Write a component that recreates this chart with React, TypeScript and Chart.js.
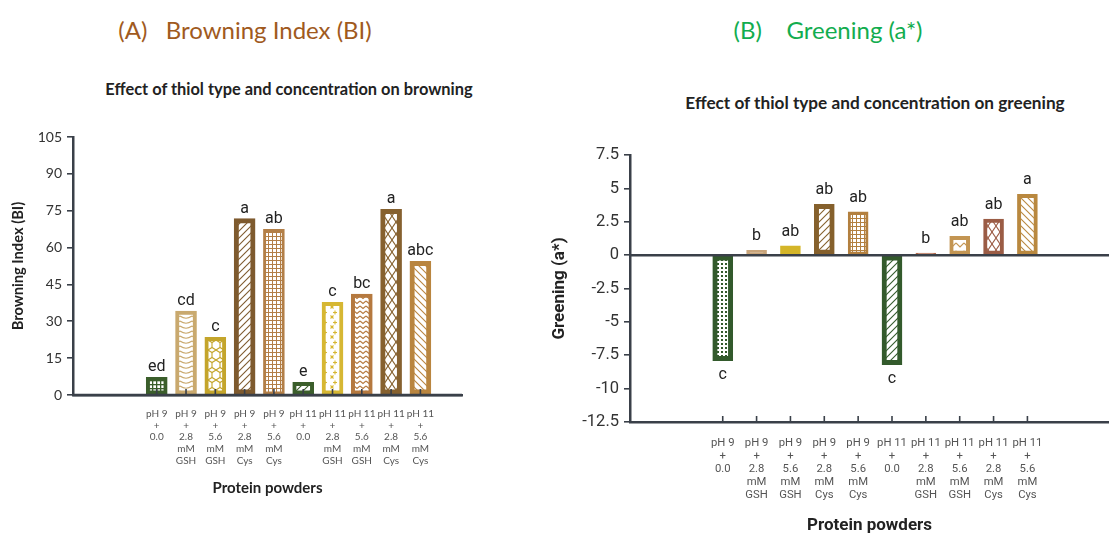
import { useEffect, useRef } from "react";
import { Chart, registerables } from "chart.js";
Chart.register(...registerables);

// ---------- data ----------
const categories = [
  "pH 9 + 0.0",
  "pH 9 + 2.8 mM GSH",
  "pH 9 + 5.6 mM GSH",
  "pH 9 + 2.8 mM Cys",
  "pH 9 + 5.6 mM Cys",
  "pH 11 + 0.0",
  "pH 11 + 2.8 mM GSH",
  "pH 11 + 5.6 mM GSH",
  "pH 11 + 2.8 mM Cys",
  "pH 11 + 5.6 mM Cys",
];
const tickLabels: string[][] = [
  ["pH 9", "+", "0.0"],
  ["pH 9", "+", "2.8", "mM", "GSH"],
  ["pH 9", "+", "5.6", "mM", "GSH"],
  ["pH 9", "+", "2.8", "mM", "Cys"],
  ["pH 9", "+", "5.6", "mM", "Cys"],
  ["pH 11", "+", "0.0"],
  ["pH 11", "+", "2.8", "mM", "GSH"],
  ["pH 11", "+", "5.6", "mM", "GSH"],
  ["pH 11", "+", "2.8", "mM", "Cys"],
  ["pH 11", "+", "5.6", "mM", "Cys"],
];
const browningValues = [7.2, 34.2, 23.5, 71.8, 67.4, 5.2, 37.7, 41.1, 75.6, 54.4];
const browningLetters = ["ed", "cd", "c", "a", "ab", "e", "c", "bc", "a", "abc"];
const browningYTicks = [0, 15, 30, 45, 60, 75, 90, 105];

const greeningValues = [-7.9, 0.35, 0.7, 3.8, 3.25, -8.2, 0.15, 1.4, 2.7, 4.55];
const greeningLetters = ["c", "b", "ab", "ab", "ab", "c", "b", "ab", "ab", "a"];
const greeningYTicks = [-12.5, -10, -7.5, -5, -2.5, 0, 2.5, 5, 7.5];

// ---------- styles ----------
const AXIS = "#3a4049";
const browningColors = ["#3b5e2b", "#c9a96e", "#c4a52b", "#7e5a2e", "#b37f47", "#3b5e2b", "#d6b733", "#b5793f", "#86612f", "#b9853f"];
const browningPatterns = ["grid", "arcs", "hex", "slash", "squares", "slash", "plus", "wave", "diamond", "backslash"];
const browningBorders = [4, 4, 4, 5, 3, 4, 4, 4, 5, 5];

const greeningColors = ["#335a2c", "#c8a47a", "#d4b528", "#85602c", "#b3803f", "#335a2c", "#b46a4c", "#c39552", "#9b5c45", "#b9883f"];
const greeningPatterns = ["dots", "solid", "solid", "slash", "squares", "slash", "solid", "chevron", "diamond", "backslash"];
const greeningBorders = [5, 3, 3, 5, 3, 5, 2, 4, 4, 4];

function makePattern(kind: string, color: string): CanvasPattern | string {
  if (kind === "solid") return color;
  const c = document.createElement("canvas");
  const g = c.getContext("2d")!;
  const set = (w: number, h: number) => {
    c.width = w;
    c.height = h;
    g.fillStyle = "#ffffff";
    g.fillRect(0, 0, w, h);
    g.strokeStyle = color;
    g.fillStyle = color;
    g.lineWidth = 1.1;
  };
  const line = (pts: number[][]) => {
    g.beginPath();
    g.moveTo(pts[0][0], pts[0][1]);
    for (let i = 1; i < pts.length; i++) g.lineTo(pts[i][0], pts[i][1]);
    g.stroke();
  };
  switch (kind) {
    case "grid":
      set(4, 4);
      g.fillRect(0, 0, 4, 1.3);
      g.fillRect(0, 0, 1.3, 4);
      break;
    case "squares":
      set(4, 4);
      g.fillRect(0, 0, 4, 1);
      g.fillRect(0, 0, 1, 4);
      break;
    case "dots":
      set(4, 4);
      g.fillRect(1, 1, 2, 2);
      break;
    case "arcs":
      set(12, 5);
      g.beginPath();
      g.moveTo(0, 1);
      g.quadraticCurveTo(6, 5.5, 12, 1);
      g.stroke();
      break;
    case "hex":
      set(8, 10);
      line([[0, 0], [4, 2.5], [8, 0]]);
      line([[4, 2.5], [4, 7.5]]);
      line([[0, 10], [4, 7.5], [8, 10]]);
      break;
    case "slash":
      set(7, 7);
      line([[0, 7], [7, 0]]);
      line([[-1, 1], [1, -1]]);
      line([[6, 8], [8, 6]]);
      break;
    case "backslash":
      set(7, 7);
      line([[0, 0], [7, 7]]);
      line([[6, -1], [8, 1]]);
      line([[-1, 6], [1, 8]]);
      break;
    case "plus":
      set(10, 10);
      line([[5, 0.5], [5, 4.5]]);
      line([[3, 2.5], [7, 2.5]]);
      line([[0.5, 5.5], [3.5, 8.5]]);
      line([[3.5, 5.5], [0.5, 8.5]]);
      break;
    case "wave":
      set(6, 5);
      line([[0, 1], [3, 3.5], [6, 1]]);
      break;
    case "diamond":
      set(8, 12);
      line([[0, 0], [8, 12]]);
      line([[8, 0], [0, 12]]);
      break;
    case "chevron":
      set(8, 8);
      line([[0, 1], [4, 5], [8, 1]]);
      break;
  }
  return g.createPattern(c, "repeat")!;
}

function annotPlugin(values: number[], letters: string[], o: { gapUp: number; gapDown: number; tickAtBottom: boolean }) {
  return {
    id: "annot",
    afterDatasetsDraw(chart: any) {
      const ctx = chart.ctx as CanvasRenderingContext2D;
      const meta = chart.getDatasetMeta(0);
      const ys = chart.scales.y;
      const area = chart.chartArea;
      const y0 = ys.getPixelForValue(0);
      ctx.save();
      ctx.strokeStyle = AXIS;
      ctx.lineWidth = 2.5;
      ctx.beginPath();
      ctx.moveTo(area.left, y0);
      ctx.lineTo(area.right, y0);
      ctx.stroke();
      const base = o.tickAtBottom ? area.bottom : y0;
      ctx.lineWidth = 1.6;
      ctx.font = "16px Roboto";
      ctx.fillStyle = "#222";
      ctx.textAlign = "center";
      ctx.textBaseline = "alphabetic";
      meta.data.forEach((el: any, i: number) => {
        ctx.beginPath();
        ctx.moveTo(el.x, base);
        ctx.lineTo(el.x, base - 6);
        ctx.stroke();
        const v = values[i];
        if (v >= 0) ctx.fillText(letters[i], el.x, el.y - o.gapUp);
        else ctx.fillText(letters[i], el.x, el.y + o.gapDown);
      });
      ctx.restore();
    },
  };
}

type Panel = {
  values: number[];
  letters: string[];
  colors: string[];
  patterns: string[];
  borders: number[];
  yTicks: number[];
  yTitle: string;
  xMin: number;
  xMax: number;
  barThickness: number;
  width: number;
  height: number;
  padTop: number;
  padRight: number;
  yWidth: number;
  xHeight: number;
  family: string;
  yTickSize: number;
  yTitleSize: number;
  yTitlePad: number;
  xTickSize: number;
  xTickLH: number;
  xTickPad: number;
  xTitleSize: number;
  xTitlePad: number;
  gapUp: number;
  gapDown: number;
  tickAtBottom: boolean;
};

function ChartPanel({ p, style }: { p: Panel; style: React.CSSProperties }) {
  const ref = useRef<HTMLCanvasElement>(null);
  useEffect(() => {
    if (!ref.current) return;
    const bg = p.patterns.map((k, i) => makePattern(k, p.colors[i]));
    const chart = new Chart(ref.current, {
      type: "bar",
      data: {
        labels: categories,
        datasets: [
          {
            data: p.values.map((v, i) => ({ x: i + 1, y: v })) as any,
            backgroundColor: bg as any,
            borderColor: p.colors,
            borderWidth: p.borders,
            borderSkipped: false,
            barThickness: p.barThickness,
          },
        ],
      },
      options: {
        animation: false,
        responsive: false,
        maintainAspectRatio: false,
        layout: { padding: { top: p.padTop, right: p.padRight, left: 0, bottom: 0 } },
        plugins: { legend: { display: false }, tooltip: { enabled: false } },
        scales: {
          x: {
            type: "linear",
            min: p.xMin,
            max: p.xMax,
            offset: false,
            afterBuildTicks: (s: any) => {
              s.ticks = categories.map((_, i) => ({ value: i + 1 }));
            },
            afterFit: (s: any) => {
              s.height = p.xHeight;
            },
            grid: { display: false, drawTicks: false },
            border: { display: true, color: AXIS, width: 2.5 },
            ticks: {
              autoSkip: false,
              maxRotation: 0,
              minRotation: 0,
              padding: p.xTickPad,
              color: "#555",
              font: { family: p.family, size: p.xTickSize, lineHeight: p.xTickLH },
              callback: (v: any) => tickLabels[Math.round(Number(v)) - 1] ?? "",
            },
            title: {
              display: true,
              text: "Protein powders",
              color: "#222",
              font: { family: p.family, size: p.xTitleSize, weight: "bold" },
              padding: { top: 0, bottom: p.xTitlePad },
            },
          },
          y: {
            type: "linear",
            min: p.yTicks[0],
            max: p.yTicks[p.yTicks.length - 1],
            afterBuildTicks: (s: any) => {
              s.ticks = p.yTicks.map((v) => ({ value: v }));
            },
            afterFit: (s: any) => {
              s.width = p.yWidth;
            },
            grid: { display: true, drawOnChartArea: false, drawTicks: true, tickLength: 6, color: AXIS, lineWidth: 1.6 },
            border: { display: true, color: AXIS, width: 2.5 },
            ticks: {
              padding: 5,
              color: "#333",
              font: { family: p.family, size: p.yTickSize },
              callback: (v: any) => String(v),
            },
            title: {
              display: true,
              text: p.yTitle,
              color: "#222",
              font: { family: p.family, size: p.yTitleSize, weight: "bold" },
              padding: { top: p.yTitlePad, bottom: 0 },
            },
          },
        },
      } as any,
      plugins: [annotPlugin(p.values, p.letters, { gapUp: p.gapUp, gapDown: p.gapDown, tickAtBottom: p.tickAtBottom })],
    });
    return () => chart.destroy();
  }, []);
  return <canvas ref={ref} width={p.width} height={p.height} style={{ position: "absolute", ...style }} />;
}

const leftPanel: Panel = {
  values: browningValues,
  letters: browningLetters,
  colors: browningColors,
  patterns: browningPatterns,
  borders: browningBorders,
  yTicks: browningYTicks,
  yTitle: "Browning Index (BI)",
  xMin: -1.858,
  xMax: 11.42,
  barThickness: 21,
  width: 466,
  height: 385,
  padTop: 17,
  padRight: 4,
  yWidth: 73,
  xHeight: 110,
  family: "Lato",
  yTickSize: 14,
  yTitleSize: 14.7,
  yTitlePad: 9.5,
  xTickSize: 10,
  xTickLH: 1.17,
  xTickPad: 13,
  xTitleSize: 15,
  xTitlePad: 7.5,
  gapUp: 6,
  gapDown: 18,
  tickAtBottom: false,
};

const rightPanel: Panel = {
  values: greeningValues,
  letters: greeningLetters,
  colors: greeningColors,
  patterns: greeningPatterns,
  borders: greeningBorders,
  yTicks: greeningYTicks,
  yTitle: "Greening (a*)",
  xMin: -1.739,
  xMax: 12.41,
  barThickness: 20,
  width: 569,
  height: 406,
  padTop: 25,
  padRight: 0,
  yWidth: 90,
  xHeight: 114,
  family: "Roboto",
  yTickSize: 16.5,
  yTitleSize: 17,
  yTitlePad: 9.8,
  xTickSize: 11.3,
  xTickLH: 1.15,
  xTickPad: 14.5,
  xTitleSize: 17,
  xTitlePad: 0,
  gapUp: 10,
  gapDown: 18,
  tickAtBottom: true,
};

const textBase: React.CSSProperties = {
  position: "absolute",
  transform: "translate(-50%, -50%)",
  whiteSpace: "pre",
  lineHeight: 1,
};

export default function App() {
  return (
    <div style={{ position: "absolute", left: 0, top: 0, width: 1109, height: 536, overflow: "hidden", background: "#fff" }}>
      <div style={{ ...textBase, left: 245, top: 30, fontFamily: "Lato", fontSize: 24, color: "#a05a1e" }}>
        {"(A)   Browning Index (BI)"}
      </div>
      <div style={{ ...textBase, left: 828, top: 30, fontFamily: "Lato", fontSize: 24, color: "#12ad4f" }}>
        {"(B)    Greening (a*)"}
      </div>
      <div style={{ ...textBase, left: 289, top: 89, fontFamily: "Lato", fontWeight: "bold", fontSize: 16.4, color: "#222" }}>
        Effect of thiol type and concentration on browning
      </div>
      <div style={{ ...textBase, left: 875, top: 103, fontFamily: "Lato", fontWeight: "bold", fontSize: 17.2, color: "#222" }}>
        Effect of thiol type and concentration on greening
      </div>
      <ChartPanel p={leftPanel} style={{ left: 0, top: 120 }} />
      <ChartPanel p={rightPanel} style={{ left: 540, top: 130 }} />
    </div>
  );
}
